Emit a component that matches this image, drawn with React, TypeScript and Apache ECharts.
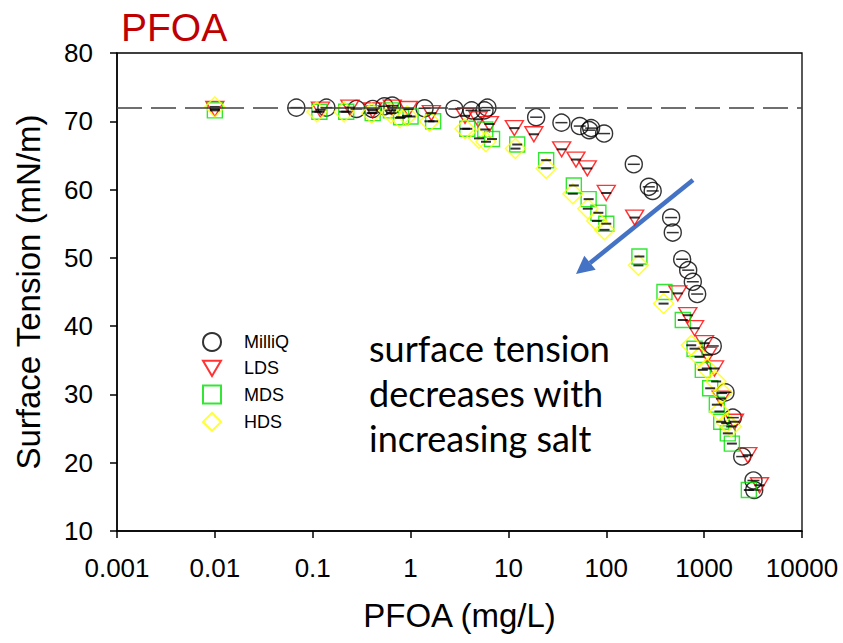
import React, { useEffect, useRef } from "react";
import * as echarts from "echarts";

const milliQX = [0.068, 0.138, 0.28, 0.41, 0.54, 0.65, 1.39, 2.8, 4.2, 5.7, 6.1, 19.2, 34.8, 53.6, 67, 70, 95, 191, 272, 298, 460, 478, 596, 687, 766, 849, 1225, 1652, 1963, 2449, 3192, 3250];
const milliQY = [72.0, 72.0, 71.8, 71.8, 72.2, 72.3, 71.9, 71.8, 71.6, 71.6, 72.0, 70.6, 69.8, 69.3, 68.7, 69.0, 68.2, 63.7, 60.4, 59.8, 55.9, 53.7, 49.8, 48.2, 46.5, 44.7, 37.1, 30.3, 26.6, 20.9, 17.4, 16.0];

const ldsX = [0.01, 0.12, 0.24, 0.41, 0.65, 0.95, 1.63, 3.6, 4.9, 6.4, 11.5, 18.2, 35, 49, 64, 100, 195, 538, 681, 798, 1009, 1089, 1276, 1494, 2040, 2793, 3680];
const ldsY = [71.8, 71.7, 72.0, 71.6, 72.0, 71.8, 71.2, 70.8, 70.3, 69.6, 69.0, 68.1, 65.9, 64.4, 63.1, 59.5, 55.9, 44.8, 41.6, 39.7, 37.5, 35.8, 33.8, 29.4, 26.0, 21.1, 16.7];

const mdsX = [0.01, 0.117, 0.22, 0.41, 0.63, 0.8, 1.0, 1.7, 3.8, 5.8, 6.8, 12.3, 24.3, 46.6, 66, 83, 100, 218, 393, 605, 798, 969, 1153, 1348, 1494, 1745, 1920, 2863];
const mdsY = [71.6, 71.4, 71.4, 71.2, 71.6, 70.6, 70.7, 70.0, 68.9, 68.8, 67.4, 66.6, 64.3, 60.6, 58.6, 56.6, 55.0, 50.2, 45.0, 40.9, 36.7, 33.6, 30.9, 28.5, 26.0, 24.3, 22.8, 16.0];

const hdsX = [0.01, 0.11, 0.21, 0.4, 0.63, 0.78, 0.92, 1.56, 3.6, 5.0, 5.9, 11.8, 24.3, 45.5, 64.7, 80, 96, 213, 385, 738, 896, 1064, 1327, 1528, 1432, 1680, 1893];
const hdsY = [72.1, 71.4, 71.4, 71.2, 71.2, 70.5, 70.8, 70.0, 68.9, 67.5, 67.0, 66.0, 63.1, 59.4, 57.2, 55.4, 54.1, 48.9, 43.3, 37.2, 35.5, 33.8, 31.9, 30.2, 27.5, 25.8, 25.3];

const seriesNames = ["MilliQ", "LDS", "MDS", "HDS"];
const xTickLabels = ["0.001", "0.01", "0.1", "1", "10", "100", "1000", "10000"];
const referenceTension = 72;
const annotation = "surface tension\ndecreases with\nincreasing salt";

const FONT = "Liberation Sans, Arial, sans-serif";

function pairs(xs: number[], ys: number[]) {
  return xs.map((x, i) => [x, ys[i]]);
}

export default function App() {
  const ref = useRef<HTMLDivElement>(null);

  useEffect(() => {
    document.body.style.margin = "0";
    const chart = echarts.init(ref.current!, null, { renderer: "svg" });

    const markerSeries = (
      name: string,
      xs: number[],
      ys: number[],
      symbol: string,
      size: any,
      color: string,
      extra: any = {}
    ) => ({
      name,
      type: "scatter",
      data: pairs(xs, ys),
      symbol,
      symbolSize: size,
      itemStyle: { color: "transparent", borderColor: color, borderWidth: 1.4 },
      emphasis: { disabled: true },
      ...extra,
    });

    const barSeries = (name: string, xs: number[], ys: number[], w: number, h: number) => ({
      name: name + " err",
      type: "scatter",
      data: pairs(xs, ys),
      symbol: "rect",
      symbolSize: [w, h],
      itemStyle: { color: "#000" },
      silent: true,
      z: 3,
    });

    const option: any = {
      animation: false,
      grid: {
        left: 117,
        right: 41,
        top: 53,
        bottom: 112,
        show: true,
        borderColor: "#000",
        borderWidth: 1.3,
      },
      graphic: [
        {
          type: "text",
          left: 121,
          top: 8,
          style: { text: "PFOA", fill: "#C00000", font: "39px " + FONT },
        },
        {
          type: "text",
          left: 369,
          top: 325,
          style: {
            text: annotation,
            fill: "#000",
            font: "36px Lato, 'Open Sans', sans-serif",
            lineHeight: 45,
          },
        },
        {
          type: "line",
          shape: { x1: 693, y1: 180, x2: 590, y2: 263 },
          style: { stroke: "#4472C4", lineWidth: 4.5 },
        },
        {
          type: "polygon",
          shape: { points: [[576, 274], [595.7, 269.7], [584.3, 255.7]] },
          style: { fill: "#4472C4" },
        },
      ],
      legend: {
        data: seriesNames,
        orient: "vertical",
        left: 202,
        top: 332,
        padding: 0,
        itemWidth: 18,
        itemHeight: 18,
        itemGap: 7.3,
        textStyle: {
          fontSize: 18,
          fontFamily: FONT,
          color: "#000",
          padding: [0, 0, 0, 18],
        },
      },
      xAxis: {
        type: "log",
        logBase: 10,
        min: 0.001,
        max: 10000,
        name: "PFOA (mg/L)",
        nameLocation: "middle",
        nameGap: 68,
        nameTextStyle: { fontSize: 33, fontFamily: FONT, color: "#000" },
        axisLine: { lineStyle: { color: "#000", width: 1.5 } },
        axisTick: { inside: false, length: 7, lineStyle: { color: "#000", width: 1.5 } },
        minorTick: { show: false },
        splitLine: { show: false },
        axisLabel: {
          fontSize: 26,
          fontFamily: FONT,
          color: "#000",
          margin: 24,
          formatter: (v: number) => {
            const idx = Math.round(Math.log10(v)) + 3;
            return xTickLabels[idx] ?? String(v);
          },
        },
      },
      yAxis: {
        type: "value",
        min: 10,
        max: 80,
        interval: 10,
        name: "Surface Tension (mN/m)",
        nameLocation: "middle",
        nameGap: 72,
        nameTextStyle: { fontSize: 33, fontFamily: FONT, color: "#000" },
        axisLine: { show: true, lineStyle: { color: "#000", width: 1.5 } },
        axisTick: { show: true, inside: false, length: 7, lineStyle: { color: "#000", width: 1.5 } },
        splitLine: { show: false },
        axisLabel: { fontSize: 26, fontFamily: FONT, color: "#000", margin: 24 },
      },
      series: [
        markerSeries("MilliQ", milliQX, milliQY, "circle", 17, "#000", {
          markLine: {
            silent: true,
            symbol: "none",
            label: { show: false },
            lineStyle: { type: [25, 9], color: "#404040", width: 1.5 },
            data: [{ yAxis: referenceTension }],
          },
        }),
        markerSeries("LDS", ldsX, ldsY, "path://M0,0L20,0L10,17Z", [18, 15], "#FF0000"),
        markerSeries("MDS", mdsX, mdsY, "rect", 15, "#00E000"),
        markerSeries("HDS", hdsX, hdsY, "diamond", 20, "#FFFF00"),
        barSeries("MilliQ", milliQX, milliQY, 12, 1.5),
        barSeries("LDS", ldsX, ldsY, 10, 2),
        barSeries("MDS", mdsX, mdsY, 10, 2),
        barSeries("HDS", hdsX, hdsY, 10, 2),
      ],
    };

    chart.setOption(option);
    return () => chart.dispose();
  }, []);

  return <div ref={ref} style={{ width: 843, height: 643 }} />;
}
